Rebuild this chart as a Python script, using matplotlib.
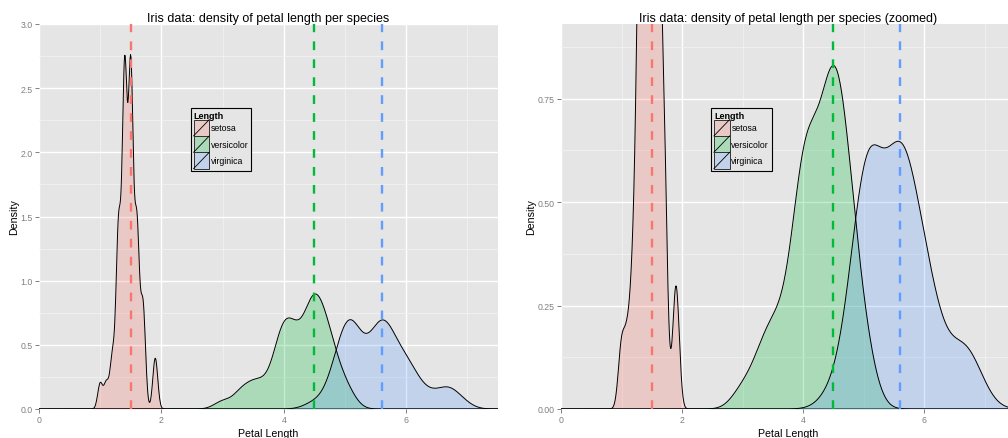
import numpy as np
import matplotlib
matplotlib.use("Agg")
import matplotlib.pyplot as plt
from matplotlib.legend_handler import HandlerBase
from matplotlib.patches import Rectangle, Patch
from matplotlib.lines import Line2D

plt.rcParams["font.family"] = ["Liberation Sans", "DejaVu Sans"]

# iris petal lengths per species
SPECIES = ["setosa", "versicolor", "virginica"]
SETOSA = [1.4, 1.4, 1.3, 1.5, 1.4, 1.7, 1.4, 1.5, 1.4, 1.5,
          1.5, 1.6, 1.4, 1.1, 1.2, 1.5, 1.3, 1.4, 1.7, 1.5,
          1.7, 1.5, 1.0, 1.7, 1.9, 1.6, 1.6, 1.5, 1.4, 1.6,
          1.6, 1.5, 1.5, 1.4, 1.5, 1.2, 1.3, 1.4, 1.3, 1.5,
          1.3, 1.3, 1.3, 1.6, 1.9, 1.4, 1.6, 1.4, 1.5, 1.4]
VERSICOLOR = [4.7, 4.5, 4.9, 4.0, 4.6, 4.5, 4.7, 3.3, 4.6, 3.9,
              3.5, 4.2, 4.0, 4.7, 3.6, 4.4, 4.5, 4.1, 4.5, 3.9,
              4.8, 4.0, 4.9, 4.7, 4.3, 4.4, 4.8, 5.0, 4.5, 3.5,
              3.8, 3.7, 3.9, 5.1, 4.5, 4.5, 4.7, 4.4, 4.1, 4.0,
              4.4, 4.6, 4.0, 3.3, 4.2, 4.2, 4.2, 4.3, 3.0, 4.1]
VIRGINICA = [6.0, 5.1, 5.9, 5.6, 5.8, 6.6, 4.5, 6.3, 5.8, 6.1,
             5.1, 5.3, 5.5, 5.0, 5.1, 5.3, 5.5, 6.7, 6.9, 5.0,
             5.7, 4.9, 6.7, 4.9, 5.7, 6.0, 4.8, 4.9, 5.6, 5.8,
             6.1, 6.4, 5.6, 5.1, 5.6, 6.1, 5.6, 5.5, 4.8, 5.4,
             5.6, 5.1, 5.1, 5.9, 5.7, 5.2, 5.0, 5.2, 5.4, 5.1]
# x of the highest density per species (dashed lines)
PEAKS = [1.5, 4.5, 5.6]

COLORS = ["#F8766D", "#00BA38", "#619CFF"]
PANEL = "#E5E5E5"
GREY = "#7F7F7F"


def bw_nrd0(x):
    # same bandwidth rule as R's density()
    q1, q3 = np.percentile(x, [25, 75])
    lo = min(np.std(x, ddof=1), (q3 - q1) / 1.34)
    return 0.9 * lo * len(x) ** -0.2


def density(x, grid, adjust):
    x = np.asarray(x)
    bw = bw_nrd0(x) * adjust
    z = (grid[:, None] - x[None, :]) / bw
    return np.exp(-0.5 * z ** 2).sum(axis=1) / (len(x) * bw * np.sqrt(2 * np.pi))


class KeyHandler(HandlerBase):
    def create_artists(self, legend, orig_handle, xdescent, ydescent,
                       width, height, fontsize, trans):
        x0, y0 = -xdescent, -ydescent
        rect = Rectangle((x0, y0), width, height, facecolor=orig_handle.get_facecolor(),
                         edgecolor="#333333", lw=0.7, transform=trans)
        line = Line2D([x0, x0 + width], [y0, y0 + height], color="black", lw=0.6,
                      transform=trans)
        return [rect, line]


def draw_panel(ax, grid, adjust, ylim, yticks, yfmt, title):
    ax.set_facecolor(PANEL)
    for s in ax.spines.values():
        s.set_visible(False)

    for values, color, peak in zip([SETOSA, VERSICOLOR, VIRGINICA], COLORS, PEAKS):
        d = density(values, grid, adjust)
        ax.fill_between(grid, 0, d, color=color, alpha=0.25, lw=0, zorder=2)
        ax.plot(grid, d, color="black", lw=0.7, zorder=3)
        ax.axvline(peak, color=color, lw=1.7, linestyle=(0, (3.7, 3.9)), zorder=4)

    ax.set_xlim(0, 7.5)
    ax.set_ylim(*ylim)
    ax.set_xticks([0, 2, 4, 6])
    ax.set_xticks([1, 3, 5, 7], minor=True)
    ax.set_yticks(yticks)
    ax.set_yticklabels([yfmt.format(v) for v in yticks])
    minor_y = [(a + b) / 2 for a, b in zip(yticks[:-1], yticks[1:])]
    if ylim[1] > yticks[-1]:
        minor_y.append(yticks[-1] + (yticks[1] - yticks[0]) / 2)
    ax.set_yticks(minor_y, minor=True)
    ax.grid(which="major", color="white", lw=1.0, zorder=0)
    ax.grid(which="minor", color="#F2F2F2", lw=0.6, zorder=0)
    ax.set_axisbelow(True)
    ax.tick_params(which="major", length=3, width=0.7, color=GREY, labelcolor=GREY,
                   labelsize=6.3, pad=1.5)
    ax.tick_params(which="minor", length=0)

    ax.set_title(title, fontsize=9, pad=2.5)
    ax.set_xlabel("Petal Length", fontsize=7.7, labelpad=3)
    ax.set_ylabel("Density", fontsize=7.7, labelpad=1)

    handles = [Patch(facecolor=c, alpha=0.25) for c in COLORS]
    leg = ax.legend(handles, SPECIES, title="Length", loc="upper left",
                    bbox_to_anchor=(0.331, 0.782), handler_map={Patch: KeyHandler()},
                    fontsize=6.3, title_fontproperties={"weight": "bold", "size": 6.5},
                    handlelength=1.8, handleheight=2.5, labelspacing=0.0,
                    handletextpad=0.2, borderpad=0.3, borderaxespad=0,
                    alignment="left", fancybox=False, framealpha=1)
    leg.get_frame().set_facecolor(PANEL)
    leg.get_frame().set_edgecolor("black")
    leg.get_frame().set_linewidth(0.8)


def main():
    fig = plt.figure(figsize=(10.08, 4.39), dpi=100)
    grid = np.linspace(0, 7.5, 1024)

    ax1 = fig.add_axes([39 / 1008, 29 / 439, 459 / 1008, 385 / 439])
    draw_panel(ax1, grid, 0.75, (0, 3.0), [0.0, 0.5, 1.0, 1.5, 2.0, 2.5, 3.0], "{:.1f}",
               "Iris data: density of petal length per species")

    # right panel runs a little past the figure edge, as in the original
    ax2 = fig.add_axes([561 / 1008, 29 / 439, 454 / 1008, 385 / 439])
    draw_panel(ax2, grid, 1.0, (0, 0.93), [0.0, 0.25, 0.5, 0.75], "{:.2f}",
               "Iris data: density of petal length per species (zoomed)")

    fig.savefig("out.png", dpi=100)


if __name__ == "__main__":
    main()
